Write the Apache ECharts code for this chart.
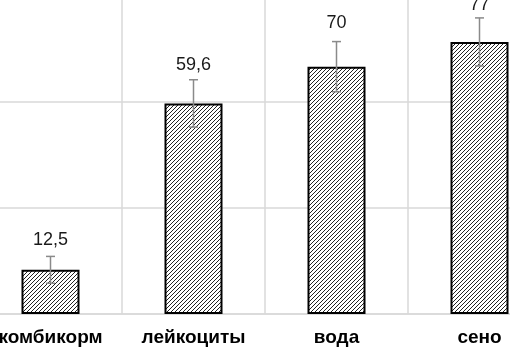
<!DOCTYPE html>
<html>
<head>
<meta charset="utf-8">
<script src="https://cdn.jsdelivr.net/npm/echarts@6/dist/echarts.min.js"></script>
<style>
  html, body { margin: 0; padding: 0; background: #fff; overflow: hidden; width: 510px; height: 347px; }
  #chart { position: absolute; left: -21px; top: -4px; width: 572px; height: 351px; }
</style>
</head>
<body>
<div id="chart"></div>
<script>
var categories = ['комбикорм', 'лейкоциты', 'вода', 'сено'];
var values = [12.5, 59.6, 70, 77];
var errors = [3.8, 6.7, 7.1, 6.8];
var valueLabels = ['12,5', '59,6', '70', '77'];

// label distance above the error cap, px (labels were placed by hand in the original)
var labelGap = [16, 15, 19, 13];

// diagonal hatch
var hatch = document.createElement('canvas');
hatch.width = 4;
hatch.height = 4;
var hc = hatch.getContext('2d');
hc.fillStyle = '#fff';
hc.fillRect(0, 0, 4, 4);
hc.strokeStyle = '#222';
hc.lineWidth = 1;
hc.beginPath();
hc.moveTo(-1, 5); hc.lineTo(5, -1);
hc.moveTo(-1, 1); hc.lineTo(1, -1);
hc.moveTo(3, 5); hc.lineTo(5, 3);
hc.stroke();

var errData = values.map(function (v, i) { return [i, v - errors[i], v + errors[i]]; });

var myChart = echarts.init(document.getElementById('chart'));
var option = {
  animation: false,
  grid: { left: 0, right: 0, top: 0, bottom: 33 },
  xAxis: {
    type: 'category',
    data: categories,
    axisLine: { lineStyle: { color: '#d9d9d9', width: 1.5 } },
    axisTick: { show: false },
    splitLine: { show: true, interval: 0, lineStyle: { color: '#d9d9d9', width: 1.5 } },
    axisLabel: {
      interval: 0, margin: 14, color: '#000',
      fontFamily: 'Liberation Sans', fontWeight: 'bold', fontSize: 19
    }
  },
  yAxis: {
    type: 'value', min: 0, max: 90, interval: 30,
    axisLabel: { show: false },
    axisLine: { show: false },
    axisTick: { show: false },
    splitLine: { lineStyle: { color: '#d9d9d9', width: 1.5 } }
  },
  series: [
    {
      type: 'bar',
      data: values,
      barWidth: 58,
      itemStyle: {
        color: { image: hatch, repeat: 'repeat' },
        borderColor: '#000',
        borderWidth: 2
      }
    },
    {
      type: 'custom',
      data: errData,
      z: 10,
      renderItem: function (params, api) {
        var i = params.dataIndex;
        var lo = api.coord([api.value(0), api.value(1)]);
        var hi = api.coord([api.value(0), api.value(2)]);
        var cap = 4.5;
        var st = { stroke: '#8a8a8a', lineWidth: 1.5 };
        return {
          type: 'group',
          children: [
            { type: 'line', shape: { x1: hi[0], y1: hi[1], x2: lo[0], y2: lo[1] }, style: st },
            { type: 'line', shape: { x1: hi[0] - cap, y1: hi[1], x2: hi[0] + cap, y2: hi[1] }, style: st },
            { type: 'line', shape: { x1: lo[0] - cap, y1: lo[1], x2: lo[0] + cap, y2: lo[1] }, style: st },
            {
              type: 'text',
              style: {
                text: valueLabels[i], x: hi[0], y: hi[1] - labelGap[i],
                align: 'center', verticalAlign: 'middle',
                fill: '#1a1a1a', font: '18px "Liberation Sans"'
              }
            }
          ]
        };
      }
    }
  ]
};
myChart.setOption(option);
</script>
</body>
</html>
